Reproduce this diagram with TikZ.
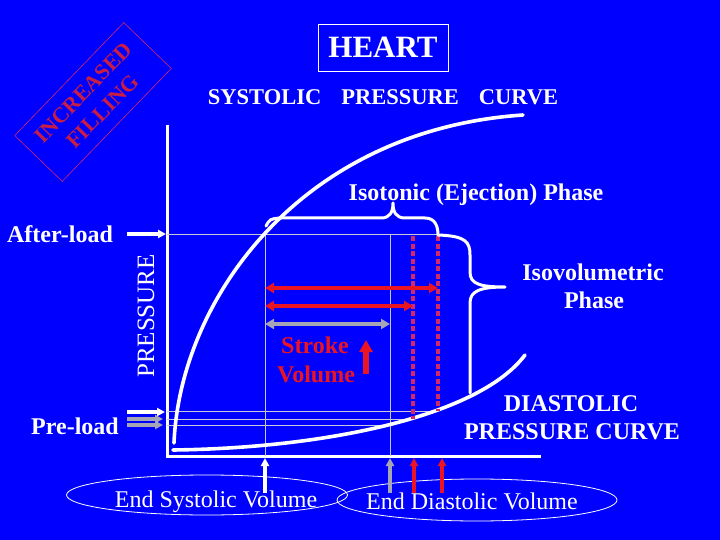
\documentclass[tikz,border=0pt]{standalone}
\usepackage{fontspec}
\setmainfont{Liberation Serif}
\usetikzlibrary{arrows.meta,shapes.geometric}
\definecolor{bgblue}{RGB}{0,0,255}
\definecolor{sred}{RGB}{235,20,35}
\definecolor{dred}{RGB}{210,40,105}
\definecolor{fred}{RGB}{200,30,70}
\definecolor{lgray}{RGB}{200,200,220}
\definecolor{mgray}{RGB}{165,165,182}
\begin{document}
\begin{tikzpicture}[x=1pt,y=-1pt,
  every node/.style={inner sep=0pt, outer sep=0pt},
  bt/.style={text=white, font=\bfseries\fontsize{24}{28}\selectfont, anchor=base},
  rt/.style={text=white, font=\fontsize{24}{28}\selectfont, anchor=base},
  thinln/.style={draw=lgray, line width=0.9pt},
  whitecurve/.style={draw=white, line width=3.6pt, line cap=round},
  axisln/.style={draw=white, line width=3pt},
  bracestyle/.style={draw=white, line width=3pt, line cap=round, line join=round},
  dotred/.style={draw=dred, line width=3.6pt, dash pattern=on 5pt off 2.5pt},
  redarr/.style={draw=sred, line width=4pt, {Triangle[length=9pt,width=10pt]}-{Triangle[length=9pt,width=10pt]}},
  grayarr/.style={draw=mgray, line width=4pt, {Triangle[length=9pt,width=10pt]}-{Triangle[length=9pt,width=10pt]}},
  whtip/.style={draw=white, line width=3.5pt, -{Triangle[length=8pt,width=8pt]}},
  grtip/.style={draw=mgray, line width=3.5pt, -{Triangle[length=8pt,width=8pt]}},
  rdtip/.style={draw=sred, line width=3.5pt, -{Triangle[length=8pt,width=8pt]}},
  ellnode/.style={ellipse, draw=white, line width=0.8pt}
]
\fill[bgblue] (0,0) rectangle (720,540);

% ---- axes ----
\coordinate (ytop) at (167,125);
\coordinate (xend) at (541,456);
\draw[axisln] (ytop) |- (xend);

% ---- thin guide lines ----
\coordinate (al) at (167,234); \coordinate (ar) at (440,234);
\draw[thinln] (al) -- (ar);
\coordinate (v1t) at (265,234); \coordinate (v1b) at (265,456);
\coordinate (v2t) at (390,234); \coordinate (v2b) at (390,456);
\draw[thinln] (v1t) -- (v1b);
\draw[thinln] (v2t) -- (v2b);
\coordinate (p1l) at (167,411); \coordinate (p1r) at (438,411);
\coordinate (p2l) at (167,419); \coordinate (p2r) at (413,419);
\coordinate (p3l) at (167,425); \coordinate (p3r) at (390,425);
\draw[thinln] (p1l) -- (p1r);
\draw[thinln] (p2l) -- (p2r);
\draw[thinln] (p3l) -- (p3r);

% ---- curves ----
\coordinate (s0) at (174,443); \coordinate (s1) at (523,115);
\draw[whitecurve] (s0) .. controls (180,300) and (300,130) .. (s1);
\coordinate (d0) at (173,450); \coordinate (d1) at (525,355);
\draw[whitecurve] (d0) .. controls (330,448) and (480,415) .. (d1);

% ---- red dotted verticals ----
\coordinate (r1t) at (413,236); \coordinate (r1b) at (413,419);
\coordinate (r2t) at (438,236); \coordinate (r2b) at (438,411);
\draw[dotred] (r1t) -- (r1b);
\draw[dotred] (r2t) -- (r2b);

% ---- horizontal double arrows ----
\coordinate (h1l) at (265,288); \coordinate (h1r) at (438,288);
\coordinate (h2l) at (265,306); \coordinate (h2r) at (413,306);
\coordinate (h3l) at (265,324); \coordinate (h3r) at (390,324);
\draw[redarr] (h1l) -- (h1r);
\draw[redarr] (h2l) -- (h2r);
\draw[grayarr] (h3l) -- (h3r);

% ---- braces ----
\coordinate (b1s) at (266,226); \coordinate (bj) at (438,235); \coordinate (b2e) at (470,393);
\draw[bracestyle] (b1s) .. controls (270,219) .. (280,218) -- (381,218)
   .. controls (390,218) and (393,212) .. (393,203)
   .. controls (393,212) and (396,218) .. (405,218) -- (425,218)
   .. controls (435,218) and (438,226) .. (bj);
\draw[bracestyle] (bj) .. controls (466,236) and (470,242) .. (470,255) -- (470,272)
   .. controls (470,284) and (480,287) .. (505,287)
   .. controls (480,287) and (470,291) .. (470,303) -- (b2e);

% ---- left arrows ----
\coordinate (aft0) at (127,234); \coordinate (aft1) at (166,234);
\draw[whtip] (aft0) -- (aft1);
\coordinate (pw0) at (127,412); \coordinate (pw1) at (165,412);
\coordinate (pg0) at (127,419); \coordinate (pg1) at (163,419);
\coordinate (ph0) at (127,425); \coordinate (ph1) at (163,425);
\draw[whtip] (pw0) -- (pw1);
\draw[grtip] (pg0) -- (pg1);
\draw[grtip] (ph0) -- (ph1);

% ---- ellipses ----
\node[ellnode, minimum width=281pt, minimum height=40pt] (esvell) at (207,495) {};
\node[ellnode, minimum width=280pt, minimum height=42pt] (edvell) at (477,500) {};
\node[rt] (esv) at (216,507) {End Systolic Volume};
\node[rt] (edv) at (472,509) {End Diastolic Volume};

% ---- bottom arrows ----
\coordinate (ba0) at (265,493); \coordinate (ba1) at (265,458);
\coordinate (bb0) at (390,493); \coordinate (bb1) at (390,458);
\coordinate (bc0) at (414,493); \coordinate (bc1) at (414,458);
\coordinate (bd0) at (442,493); \coordinate (bd1) at (442,458);
\draw[whtip] (ba0) -- (ba1);
\draw[grtip] (bb0) -- (bb1);
\draw[rdtip] (bc0) -- (bc1);
\draw[rdtip] (bd0) -- (bd1);

% ---- stroke volume ----
\node[bt, text=sred] (stroke) at (315,353) {Stroke};
\node[bt, text=sred] (volume) at (316,382) {Volume};
\coordinate (su0) at (366,374); \coordinate (su1) at (366,340);
\draw[draw=sred, line width=6.5pt, -{Triangle[length=12pt,width=13pt]}] (su0) -- (su1);

% ---- titles and labels ----
\node[draw=white, line width=0.8pt, minimum width=130pt, minimum height=47pt] (heartbox) at (383,47.5) {};
\node[bt, font=\bfseries\fontsize{31}{34}\selectfont] (heart) at (383,58) {HEART};
\node[bt, font=\bfseries\fontsize{22.5}{26}\selectfont] (syst) at (383,105)
   {SYSTOLIC\hspace{20pt}PRESSURE\hspace{20pt}CURVE};
\node[bt] (isot) at (476,201) {Isotonic (Ejection) Phase};
\node[bt] (after) at (60,243) {After-load};
\node[bt] (pre) at (75,434) {Pre-load};
\node[rt, rotate=90, font=\fontsize{25}{28}\selectfont] (pres) at (154,316) {PRESSURE};
\node[bt] (isov1) at (593,280) {Isovolumetric};
\node[bt] (isov2) at (594,308) {Phase};
\node[bt] (dias1) at (571,411) {DIASTOLIC};
\node[bt] (dias2) at (572,439) {PRESSURE CURVE};

% ---- increased filling ----
\node[draw=dred, line width=0.6pt, rotate=46, minimum width=157pt, minimum height=66pt,
      text=fred, font=\bfseries\fontsize{22}{27}\selectfont, align=center] (incfill) at (93,102)
      {INCREASED\\FILLING};
\end{tikzpicture}
\end{document}
